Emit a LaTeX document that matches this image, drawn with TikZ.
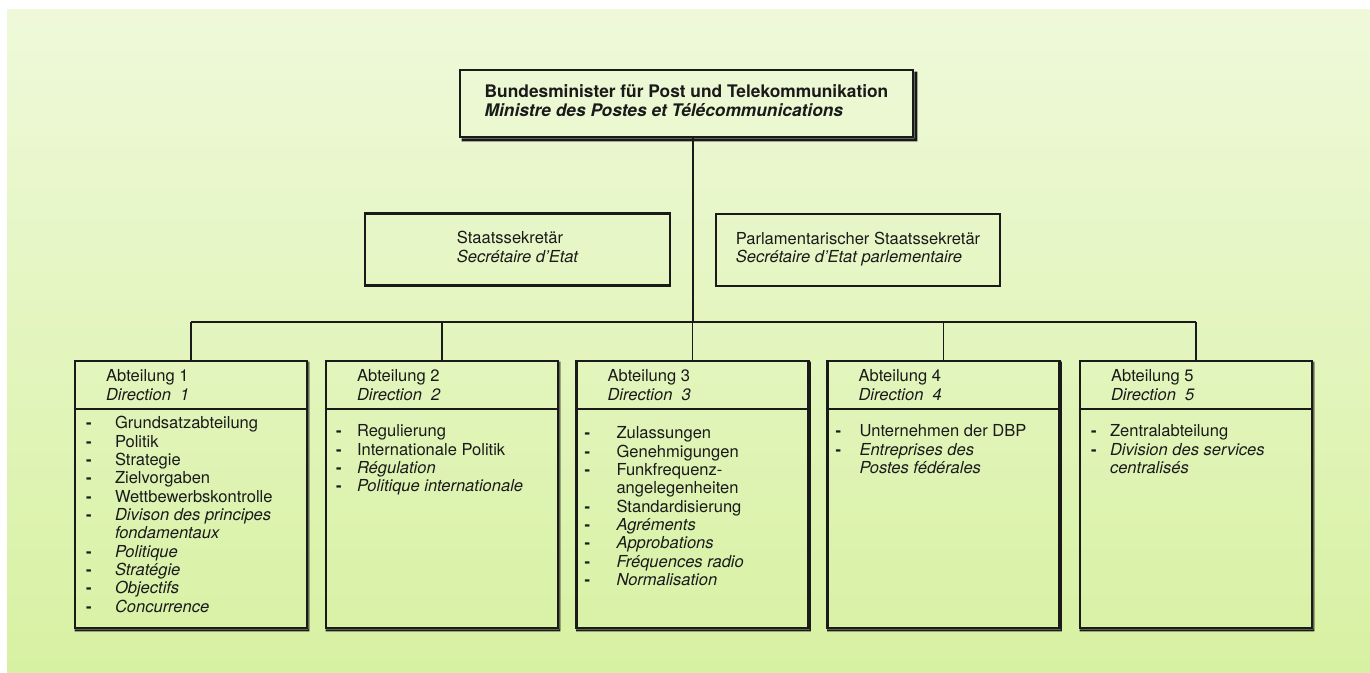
\documentclass[tikz,border=0pt]{standalone}
\usepackage{fontspec}
\setmainfont{TeX Gyre Heros}
\usetikzlibrary{calc}
\definecolor{bgtop}{HTML}{EFF9DA}
\definecolor{bgbot}{HTML}{D7F1A2}
\definecolor{ink}{HTML}{1A1A1A}
\newcommand\bodyfont{\fontsize{12.4}{13.75}\selectfont}
\newcommand\dsh{\textbf{-}}
\newcommand\boxshadow[3]{% node, dx, dy
  \fill[ink] ($(#1.south west)+(#2,0)$) -- ($(#1.south west)+(#2,#3)$) -- ($(#1.south east)+(#2,#3)$) -- ($(#1.north east)+(#2,#3)$) -- ($(#1.north east)+(0,#3)$) -- (#1.south east) -- cycle;}
\tikzset{
  conn/.style={draw=ink, line width=0.9pt},
  topbox/.style={draw=ink, line width=2.2pt, minimum width=339.75pt, minimum height=50.25pt, inner sep=0pt, text=ink, font=\fontsize{13}{14.2}\selectfont},
  midbox/.style={draw=ink, line width=1.6pt, minimum height=54pt, inner sep=0pt, text=ink, font=\bodyfont},
  deptbox/.style={draw=ink, line width=1.9pt, minimum width=174pt, minimum height=200.25pt, inner sep=0pt},
  depttext/.style={anchor=base west, inner sep=0pt, text=ink, font=\bodyfont},
  divider/.style={draw=ink, line width=1.4pt}
}
% #1 name, #2 x centre, #3 number, #4 dash offset, #5 dash column width (pt), #6 baseline offset, #7 rows
\newcommand\dept[7]{%
  \node[deptbox] (#1) at (#2,494.5) {};
  \boxshadow{#1}{1}{2}
  \draw[divider] ($(#1.north west)+(0,49)$) -- ($(#1.north east)+(0,49)$);
  \node[depttext] (#1h) at ($(#1.north west)+(32,22)$) {\begin{tabular}[t]{@{}l@{}}Abteilung #3\\\itshape Direction\hspace{0.55em}#3\end{tabular}};
  \node[depttext] (#1l) at ($(#1.north west)+(#4,#6)$) {\begin{tabular}[t]{@{}p{#5}@{}l@{}}#7\end{tabular}};
}
\begin{document}
\begin{tikzpicture}[x=0.75pt,y=-0.75pt]
\useasboundingbox (0,0) rectangle (1370,673);
\fill[white] (0,0) rectangle (1370,673);
\shade[top color=bgtop,bottom color=bgbot] (7,10) rectangle (1370,673);

% top box
\node[topbox] (min) at (686.5,103.5) {\begin{tabular}{@{}l@{}}\bfseries Bundesminister für Post und Telekommunikation\\\bfseries\itshape Ministre des Postes et Télécommunications\end{tabular}};
\boxshadow{min}{3}{3}

% secretaries
\node[midbox, minimum width=228.75pt] (st) at (517.5,249.5) {\begin{tabular}{@{}l@{}}Staatssekretär\\\itshape Secrétaire d'Etat\end{tabular}};
\node[midbox, minimum width=213pt] (ps) at (858,250) {\begin{tabular}{@{}l@{}}Parlamentarischer Staatssekretär\\\itshape Secrétaire d'Etat parlementaire\end{tabular}};

\coordinate (bus) at (693,322);

\dept{d1}{191}{1}{12}{21.75pt}{69}{\dsh&Grundsatzabteilung\\\dsh&Politik\\\dsh&Strategie\\\dsh&Zielvorgaben\\\dsh&Wettbewerbskontrolle\\\dsh&\itshape Divison des principes\\&\itshape fondamentaux\\\dsh&\itshape Politique\\\dsh&\itshape Stratégie\\\dsh&\itshape Objectifs\\\dsh&\itshape Concurrence}
\dept{d2}{442}{2}{11}{15.75pt}{77}{\dsh&Regulierung\\\dsh&Internationale Politik\\\dsh&\itshape Régulation\\\dsh&\itshape Politique internationale}
\dept{d3}{692.5}{3}{9}{24pt}{79}{\dsh&Zulassungen\\\dsh&Genehmigungen\\\dsh&Funkfrequenz-\\&angelegenheiten\\\dsh&Standardisierung\\\dsh&\itshape Agréments\\\dsh&\itshape Approbations\\\dsh&\itshape Fréquences radio\\\dsh&\itshape Normalisation}
\dept{d4}{943.5}{4}{9}{18pt}{77}{\dsh&Unternehmen der DBP\\\dsh&\itshape Entreprises des\\&\itshape Postes fédérales}
\dept{d5}{1196}{5}{12}{14.25pt}{77}{\dsh&Zentralabteilung\\\dsh&\itshape Division des services\\&\itshape centralisés}

% connectors
\draw[conn] (bus |- min.south) -- (bus);
\draw[conn] (d1.north |- bus) -- (d5.north |- bus);
\foreach \i in {1,...,5} \draw[conn] (d\i.north |- bus) -- (d\i.north);
\end{tikzpicture}
\end{document}
